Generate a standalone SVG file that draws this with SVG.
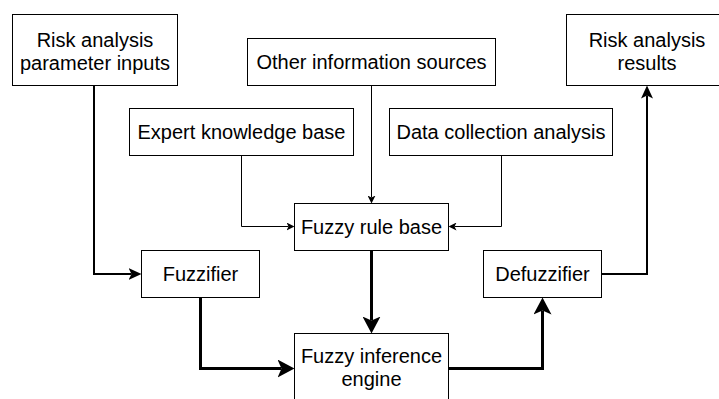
<svg xmlns="http://www.w3.org/2000/svg" width="719" height="399" viewBox="0 0 719 399">
  <style>
    .box { fill: #ffffff; stroke: #000000; stroke-width: 1; }
    .lbl { font-family: "Liberation Sans", Arial, Helvetica, sans-serif; font-size: 20px; fill: #000000; text-anchor: middle; }
    .thin { fill: none; stroke: #000000; stroke-width: 1; }
    .med { fill: none; stroke: #000000; stroke-width: 2; }
    .thick { fill: none; stroke: #000000; stroke-width: 3; }
  </style>
  <defs>
    <marker id="arrThin" markerUnits="userSpaceOnUse" markerWidth="8" markerHeight="8" viewBox="0 0 8 8" refX="2" refY="4" orient="auto">
      <path d="M0,0 L8,4 L0,8 L2,4 Z" fill="#000000"/>
    </marker>
    <marker id="arrMed" markerUnits="userSpaceOnUse" markerWidth="13" markerHeight="12" viewBox="0 0 13 12" refX="3" refY="6" orient="auto">
      <path d="M0,0 L13,6 L0,12 L3,6 Z" fill="#000000"/>
    </marker>
    <marker id="arrThick" markerUnits="userSpaceOnUse" markerWidth="17" markerHeight="18" viewBox="0 0 17 18" refX="4" refY="9" orient="auto">
      <path d="M0,0 L17,9 L0,18 L4,9 Z" fill="#000000"/>
    </marker>
  </defs>

  <g id="connectors">
    <path class="med" d="M94,85.5 V274 H131.5" marker-end="url(#arrMed)"/>
    <path class="thin" d="M241.5,155.5 V226.5 H288.5" marker-end="url(#arrThin)"/>
    <path class="thin" d="M371.5,85.5 V197.5" marker-end="url(#arrThin)"/>
    <path class="thin" d="M501.5,155.5 V226.5 H454.5" marker-end="url(#arrThin)"/>
    <path class="thick" d="M371.5,250.5 V320.5" marker-end="url(#arrThick)"/>
    <path class="thick" d="M200.5,297.5 V368.5 H281.5" marker-end="url(#arrThick)"/>
    <path class="thick" d="M448.5,368.5 H542.5 V310.5" marker-end="url(#arrThick)"/>
    <path class="med" d="M601.5,274 H647 V95.5" marker-end="url(#arrMed)"/>
  </g>

  <g id="risk-inputs">
    <rect class="box" x="12.5" y="14.5" width="165" height="71"/>
    <text class="lbl" x="95" y="47">Risk analysis</text>
    <text class="lbl" x="95" y="69.5">parameter inputs</text>
  </g>
  <g id="other-sources">
    <rect class="box" x="247.5" y="38.5" width="248" height="47"/>
    <text class="lbl" x="371.5" y="69">Other information sources</text>
  </g>
  <g id="expert-knowledge">
    <rect class="box" x="129.5" y="108.5" width="224" height="47"/>
    <text class="lbl" x="241.5" y="139">Expert knowledge base</text>
  </g>
  <g id="data-collection">
    <rect class="box" x="389.5" y="108.5" width="223" height="47"/>
    <text class="lbl" x="501" y="139">Data collection analysis</text>
  </g>
  <g id="risk-results">
    <rect class="box" x="566.5" y="14.5" width="161" height="71"/>
    <text class="lbl" x="647" y="47">Risk analysis</text>
    <text class="lbl" x="647" y="69.5">results</text>
  </g>
  <g id="fuzzy-rule-base">
    <rect class="box" x="294.5" y="203.5" width="154" height="47"/>
    <text class="lbl" x="371.5" y="234">Fuzzy rule base</text>
  </g>
  <g id="fuzzifier">
    <rect class="box" x="141.5" y="250.5" width="118" height="47"/>
    <text class="lbl" x="200.5" y="281">Fuzzifier</text>
  </g>
  <g id="defuzzifier">
    <rect class="box" x="483.5" y="250.5" width="118" height="47"/>
    <text class="lbl" x="542.5" y="281">Defuzzifier</text>
  </g>
  <g id="fuzzy-inference-engine">
    <rect class="box" x="294.5" y="333.5" width="154" height="71"/>
    <text class="lbl" x="371.5" y="363">Fuzzy inference</text>
    <text class="lbl" x="371.5" y="386">engine</text>
  </g>
</svg>
